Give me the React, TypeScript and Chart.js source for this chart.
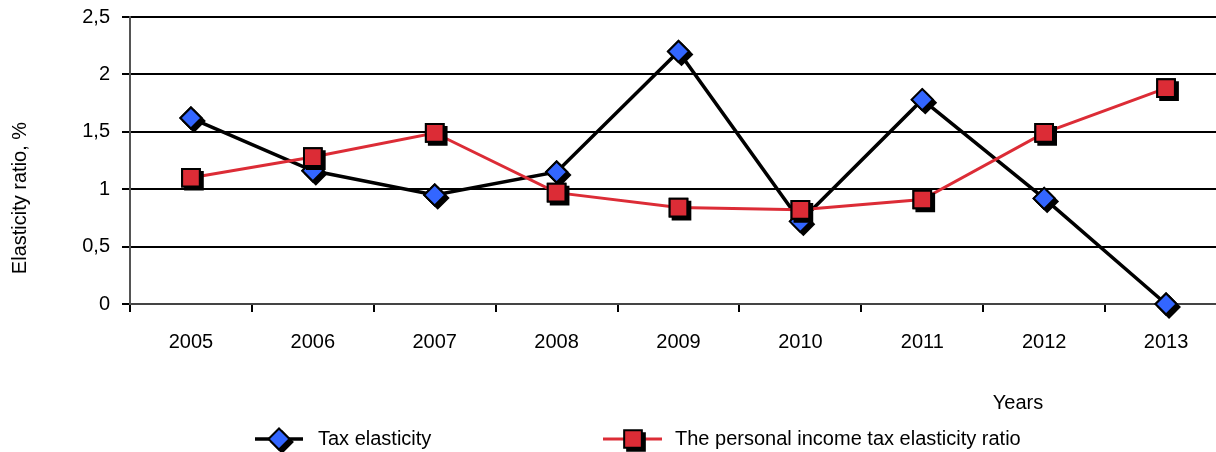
import React, { useEffect, useRef } from "react";
import { Chart, registerables } from "chart.js";

Chart.register(...registerables);

const years = ["2005", "2006", "2007", "2008", "2009", "2010", "2011", "2012", "2013"];
const taxElasticity = [1.62, 1.16, 0.95, 1.15, 2.2, 0.72, 1.78, 0.92, 0];
const pitElasticity = [1.1, 1.28, 1.49, 0.97, 0.84, 0.82, 0.91, 1.49, 1.88];
const yTickValues = [0, 0.5, 1, 1.5, 2, 2.5];
const seriesNames = ["Tax elasticity", "The personal income tax elasticity ratio"];
const xTitle = "Years";
const yTitle = "Elasticity ratio, %";

const FONT = "'Liberation Sans', Arial, Helvetica, sans-serif";
const FONT_SIZE = 20;
const BLUE = "#3366ff";
const RED = "#dc2c36";
const SHADOW = 3;
const CANVAS_W = 1228;
const CANVAS_H = 452;

function markerPath(ctx: CanvasRenderingContext2D, style: string, x: number, y: number, r: number) {
  ctx.beginPath();
  if (style === "rectRot") {
    ctx.moveTo(x - r, y);
    ctx.lineTo(x, y - r);
    ctx.lineTo(x + r, y);
    ctx.lineTo(x, y + r);
    ctx.closePath();
  } else {
    const s = Math.SQRT1_2 * r;
    ctx.rect(x - s, y - s, 2 * s, 2 * s);
  }
}

function drawMarker(ctx: CanvasRenderingContext2D, style: string, x: number, y: number, r: number, fill: string, stroke: string, bw: number) {
  ctx.save();
  markerPath(ctx, style, x + SHADOW, y + SHADOW, r);
  ctx.fillStyle = "#000";
  ctx.strokeStyle = "#000";
  ctx.lineWidth = bw;
  ctx.fill();
  ctx.stroke();
  markerPath(ctx, style, x, y, r);
  ctx.fillStyle = fill;
  ctx.strokeStyle = stroke;
  ctx.lineWidth = bw;
  ctx.fill();
  ctx.stroke();
  ctx.restore();
}

const shadowPointsPlugin = {
  id: "shadowPoints",
  afterDatasetDraw(chart: any, args: any) {
    const ctx = chart.ctx as CanvasRenderingContext2D;
    const meta = args.meta;
    meta.data.forEach((el: any) => {
      const o = el.options;
      drawMarker(ctx, o.pointStyle, el.x, el.y, o.radius, o.backgroundColor, o.borderColor, o.borderWidth);
    });
  },
};

const decorPlugin = {
  id: "decor",
  afterDraw(chart: any) {
    const ctx = chart.ctx as CanvasRenderingContext2D;
    ctx.save();
    ctx.font = `${FONT_SIZE}px ${FONT}`;
    ctx.fillStyle = "#000";
    // y title
    ctx.save();
    ctx.translate(20, 198);
    ctx.rotate(-Math.PI / 2);
    ctx.textAlign = "center";
    ctx.textBaseline = "middle";
    ctx.fillText(yTitle, 0, 0);
    ctx.restore();
    // x title
    ctx.textAlign = "center";
    ctx.textBaseline = "middle";
    ctx.fillText(xTitle, 1018, 403);
    // legend
    const items = [
      { lx0: 255, lx1: 303, mx: 279, tx: 318 },
      { lx0: 603, lx1: 662, mx: 633, tx: 675 },
    ];
    const ly = 439;
    chart.data.datasets.forEach((ds: any, i: number) => {
      const it = items[i];
      ctx.beginPath();
      ctx.moveTo(it.lx0, ly);
      ctx.lineTo(it.lx1, ly);
      ctx.strokeStyle = ds.borderColor;
      ctx.lineWidth = ds.borderWidth;
      ctx.stroke();
      drawMarker(ctx, ds.pointStyle, it.mx, ly, ds.pointRadius, ds.pointBackgroundColor, ds.pointBorderColor, ds.pointBorderWidth);
      ctx.textAlign = "left";
      ctx.textBaseline = "middle";
      ctx.fillStyle = "#000";
      ctx.fillText(ds.label, it.tx, ly);
    });
    ctx.restore();
  },
};

function LineChart() {
  const ref = useRef<HTMLCanvasElement | null>(null);
  useEffect(() => {
    if (!ref.current) return;
    Chart.defaults.font.family = FONT;
    Chart.defaults.font.size = FONT_SIZE;
    Chart.defaults.color = "#000";
    const chart = new Chart(ref.current, {
      type: "line",
      data: {
        labels: years,
        datasets: [
          {
            label: seriesNames[0],
            data: taxElasticity,
            borderColor: "#000",
            borderWidth: 3.5,
            pointStyle: "rectRot",
            pointRadius: 10.5,
            pointBackgroundColor: BLUE,
            pointBorderColor: "#000",
            pointBorderWidth: 2,
            tension: 0,
            order: 2,
            clip: false,
          } as any,
          {
            label: seriesNames[1],
            data: pitElasticity,
            borderColor: RED,
            borderWidth: 3,
            pointStyle: "rect",
            pointRadius: 12.5,
            pointBackgroundColor: RED,
            pointBorderColor: "#000",
            pointBorderWidth: 2,
            tension: 0,
            order: 1,
            clip: false,
          } as any,
        ],
      },
      options: {
        animation: false,
        responsive: false,
        maintainAspectRatio: false,
        devicePixelRatio: 1,
        layout: { autoPadding: false, padding: { top: 17, left: 0, right: 1, bottom: 0 } },
        plugins: {
          legend: { display: false },
          tooltip: { enabled: false },
        },
        scales: {
          x: {
            type: "category",
            offset: true,
            grid: {
              display: true,
              drawOnChartArea: false,
              drawTicks: true,
              tickLength: 8,
              offset: true,
              color: "#000",
              lineWidth: 2,
            },
            border: { display: true, color: "#444", width: 2 },
            ticks: { padding: 18, maxRotation: 0, autoSkip: false },
            afterFit: (scale: any) => {
              scale.height = 148;
              scale.paddingLeft = 0;
              scale.paddingRight = 0;
            },
          },
          y: {
            min: 0,
            max: 2.5,
            afterBuildTicks: (scale: any) => {
              scale.ticks = yTickValues.map((v) => ({ value: v }));
            },
            grid: {
              color: "#000",
              lineWidth: 2,
              tickLength: 8,
              drawTicks: true,
            },
            border: { display: true, color: "#555", width: 2 },
            ticks: {
              padding: 12,
              callback: (v: any) => String(v).replace(".", ","),
            },
            afterFit: (scale: any) => {
              scale.width = 130;
              scale.paddingTop = 0;
              scale.paddingBottom = 0;
            },
          },
        },
      } as any,
      plugins: [shadowPointsPlugin, decorPlugin],
    });
    return () => chart.destroy();
  }, []);
  return (
    <div style={{ position: "fixed", left: 0, top: 0, width: 1216, height: 452, overflow: "hidden", background: "#fff" }}>
      <canvas
        ref={ref}
        width={CANVAS_W}
        height={CANVAS_H}
        style={{ display: "block", width: CANVAS_W, height: CANVAS_H }}
      />
    </div>
  );
}

export default function App() {
  return <LineChart />;
}
